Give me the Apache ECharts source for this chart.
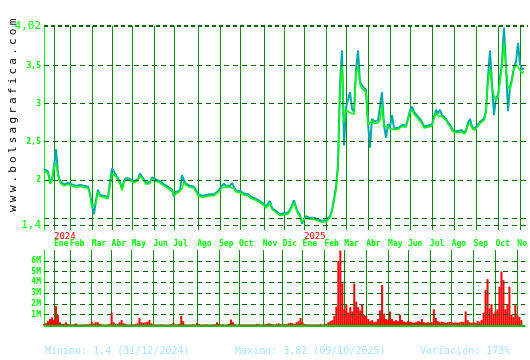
<!DOCTYPE html>
<html><head><meta charset="utf-8">
<script src="https://cdn.jsdelivr.net/npm/echarts@6/dist/echarts.min.js"></script>
<style>
html,body{margin:0;padding:0;background:#fff;}
#c{position:absolute;left:0;top:0;width:530px;height:360px;}
#wm{position:absolute;left:7px;top:212px;font:11px "DejaVu Sans Mono";line-height:11px;letter-spacing:3.2px;white-space:nowrap;color:#000;transform-origin:0 0;transform:rotate(-90deg);}
</style></head>
<body><div id="c"></div><div id="wm">www.bolsagrafica.com</div>
<script>
// ---- data ----
const monthNames = ['Ene','Feb','Mar','Abr','May','Jun','Jul','Ago','Sep','Oct','Nov','Dic','Ene','Feb','Mar','Abr','May','Jun','Jul','Ago','Sep','Oct','No'];
const monthIdx = [5,13,24,34,44,55,65,77,88,98,110,120,130,141,151,162,173,183,194,205,216,227,238];
const yearLabels = ['2024','2025'];
const yearIdx = [5,130];
const priceTicks = [1.4,1.5,2,2.5,3,3.5,4.02];
const priceTickLabels = ['1,4','','2','2,5','3','3,5','4,02'];
const volTicks = [1,2,3,4,5,6];
const volTickLabels = ['1M','2M','3M','4M','5M','6M'];
const closeVals = [2.12,2.10,2.08,1.95,1.98,2.15,2.22,2.05,1.96,1.95,
1.92,1.91,1.94,1.93,1.92,1.93,1.90,1.90,1.91,1.90,
1.90,1.91,1.89,1.80,1.64,1.62,1.70,1.84,1.78,1.77,
1.77,1.76,1.75,1.73,2.08,2.10,2.04,2.02,1.95,1.86,
1.97,2.00,2.01,1.99,1.97,1.96,1.97,1.99,2.05,2.04,
1.98,1.94,1.92,1.95,2.01,2.00,1.98,1.97,1.96,1.95,
1.92,1.91,1.89,1.88,1.85,1.80,1.82,1.83,1.84,1.88,
1.97,1.93,1.92,1.90,1.90,1.89,1.88,1.79,1.77,1.77,
1.78,1.78,1.79,1.79,1.80,1.79,1.81,1.83,1.85,1.90,
1.92,1.90,1.89,1.90,1.89,1.88,1.84,1.83,1.83,1.81,
1.80,1.80,1.79,1.77,1.75,1.74,1.73,1.72,1.70,1.68,
1.66,1.63,1.62,1.69,1.61,1.59,1.57,1.56,1.53,1.52,
1.54,1.56,1.55,1.59,1.64,1.70,1.62,1.55,1.52,1.45,
1.47,1.50,1.50,1.48,1.47,1.48,1.47,1.46,1.45,1.44,
1.46,1.45,1.45,1.50,1.58,1.72,1.86,2.15,3.20,3.50,
2.75,2.92,2.90,2.88,2.90,2.86,3.40,3.48,3.25,3.20,
3.22,3.15,2.72,2.75,2.78,2.74,2.76,2.75,2.78,2.98,
2.70,2.68,2.70,2.67,2.69,2.66,2.64,2.66,2.65,2.70,
2.72,2.69,2.71,2.88,2.92,2.86,2.83,2.80,2.78,2.74,
2.68,2.67,2.69,2.70,2.71,2.73,2.88,2.84,2.85,2.83,
2.84,2.78,2.73,2.70,2.65,2.62,2.60,2.62,2.61,2.63,
2.60,2.63,2.72,2.75,2.68,2.65,2.64,2.70,2.74,2.73,
2.78,2.88,3.30,3.45,3.22,3.10,3.05,3.08,3.30,3.50,
3.80,3.45,3.22,3.18,3.30,3.45,3.52,3.48,3.50,3.40,
3.42];
const tealVals = [2.14,2.13,2.11,1.97,2.00,2.18,2.40,2.08,1.98,1.97,
1.94,1.93,1.96,1.95,1.94,1.95,1.92,1.92,1.93,1.92,
1.92,1.93,1.91,1.82,1.66,1.55,1.73,1.87,1.80,1.79,
1.79,1.78,1.77,1.75,2.15,2.13,2.06,2.04,1.97,1.88,
1.99,2.02,2.03,2.01,1.99,1.98,1.99,2.01,2.08,2.06,
2.00,1.96,1.94,1.97,2.03,2.02,2.00,1.99,1.98,1.97,
1.94,1.93,1.91,1.90,1.87,1.78,1.84,1.85,1.86,2.06,
1.99,1.95,1.94,1.92,1.92,1.91,1.90,1.81,1.79,1.79,
1.80,1.80,1.81,1.81,1.82,1.81,1.83,1.85,1.87,1.92,
1.95,1.92,1.91,1.92,1.96,1.90,1.86,1.85,1.85,1.83,
1.82,1.82,1.81,1.79,1.77,1.76,1.75,1.74,1.72,1.70,
1.68,1.65,1.64,1.72,1.63,1.61,1.59,1.58,1.55,1.54,
1.56,1.58,1.57,1.61,1.66,1.73,1.64,1.57,1.54,1.42,
1.49,1.52,1.52,1.50,1.49,1.50,1.49,1.48,1.47,1.46,
1.48,1.47,1.47,1.52,1.60,1.75,1.90,2.20,3.25,3.70,
2.45,2.95,2.93,3.15,2.93,2.89,3.44,3.70,3.28,3.24,
3.26,3.18,2.74,2.42,2.80,2.77,2.79,2.78,2.80,3.15,
2.72,2.55,2.73,2.70,2.85,2.68,2.66,2.68,2.67,2.72,
2.74,2.71,2.73,2.91,2.96,2.89,2.86,2.83,2.80,2.76,
2.70,2.69,2.71,2.72,2.73,2.75,2.92,2.87,2.92,2.85,
2.86,2.80,2.75,2.72,2.67,2.64,2.62,2.64,2.63,2.65,
2.62,2.65,2.75,2.80,2.70,2.67,2.66,2.72,2.76,2.75,
2.80,2.90,3.35,3.70,3.25,2.85,3.08,3.11,3.33,3.55,
4.00,3.48,2.90,3.21,3.33,3.48,3.55,3.80,3.52,3.45,
3.46];
const volM = [0.15,0.2,0.4,0.6,0.75,0.5,1.8,1.0,0.3,0.15,
0.15,0.3,0.15,0.1,0.1,0.12,0.2,0.1,0.1,0.1,
0.12,0.1,0.12,0.15,0.35,0.2,0.3,0.3,0.15,0.12,
0.1,0.1,0.1,0.15,1.2,0.3,0.15,0.15,0.3,0.5,
0.2,0.15,0.1,0.1,0.12,0.1,0.15,0.2,0.7,0.3,
0.25,0.3,0.35,0.5,0.2,0.12,0.1,0.1,0.1,0.12,
0.1,0.1,0.1,0.1,0.12,0.25,0.1,0.1,0.15,0.9,
0.4,0.1,0.1,0.1,0.1,0.12,0.1,0.25,0.15,0.1,
0.1,0.1,0.12,0.1,0.1,0.1,0.12,0.3,0.15,0.1,
0.12,0.1,0.1,0.15,0.55,0.3,0.12,0.1,0.1,0.1,
0.12,0.1,0.1,0.1,0.12,0.1,0.1,0.15,0.12,0.1,
0.1,0.12,0.15,0.2,0.15,0.12,0.1,0.15,0.2,0.12,
0.1,0.15,0.12,0.2,0.25,0.2,0.15,0.3,0.4,0.7,
0.3,0.15,0.12,0.1,0.12,0.1,0.1,0.12,0.1,0.15,
0.1,0.12,0.15,0.3,0.4,0.5,0.9,1.75,6.0,6.95,
3.9,1.5,2.0,1.2,1.7,1.3,3.9,2.2,1.7,1.4,
2.0,1.0,0.9,0.6,0.4,0.5,0.3,0.35,0.6,1.4,
3.75,1.1,0.6,0.5,1.3,0.6,0.4,0.5,0.4,1.0,
0.5,0.35,0.3,0.4,0.35,0.3,0.25,0.3,0.4,0.35,
0.6,0.3,0.25,0.3,0.25,0.3,1.5,0.7,0.4,0.3,
0.35,0.3,0.25,0.3,0.35,0.3,0.25,0.3,0.25,0.3,
0.35,0.3,1.3,0.5,0.3,0.25,0.3,0.25,0.4,0.3,
0.5,1.2,3.3,4.3,1.6,2.0,1.1,1.3,1.5,3.6,
5.0,4.2,1.5,2.0,3.6,1.0,0.8,2.0,1.0,0.8,
0.5];
const minText = 'Minimo: 1,4 (31/12/2024)';
const maxText = 'Maximo: 3,82 (09/10/2025)';
const varText = 'Variación: 173%';

// ---- chart ----
const N = 243;
const cats = Array.from({length: N}, (_, i) => String(i));
const monthAt = {}; monthIdx.forEach((k, j) => { monthAt[k] = monthNames[j]; });
const yearAt = {}; yearIdx.forEach((k, j) => { yearAt[k] = yearLabels[j]; });
const FONT = '"DejaVu Sans Mono", monospace';
const gridDash = '#006400';
const mkVLine = () => ({show: true, interval: (i) => monthAt[i] !== undefined, lineStyle: {color: '#008c00', width: 1}});

const priceLines = priceTicks.map((v, j) => {
  const big = (v === 4.02 || v === 1.4);
  return {
    yAxis: v, name: priceTickLabels[j],
    lineStyle: {color: gridDash, width: v === 4.02 ? 2 : 1, type: v === 4.02 ? [4, 3] : [5, 4]},
    label: {show: priceTickLabels[j] !== '', fontSize: big ? 11 : 8, fontWeight: big ? 'normal' : 'bold'}
  };
});
const volLines = volTicks.map((v, j) => ({
  yAxis: v, name: volTickLabels[j],
  lineStyle: {color: gridDash, width: 1, type: [5, 4]}
}));
volLines.push({yAxis: 0, name: '', lineStyle: {color: '#00c800', width: 2, type: 'solid'}, label: {show: false}});

const chart = echarts.init(document.getElementById('c'), null, {renderer: 'canvas'});
chart.setOption({
  animation: false,
  backgroundColor: '#fff',
  textStyle: {fontFamily: FONT},
  grid: [
    {left: 44, top: 26, width: 484, height: 204},
    {left: 44, top: 250, width: 484, height: 75.5}
  ],
  xAxis: [
    {type: 'category', gridIndex: 0, data: cats, boundaryGap: false,
     axisLine: {show: false}, axisTick: {show: false},
     axisLabel: {interval: (i) => yearAt[i] !== undefined, formatter: (v, i) => yearAt[i] || '',
                 color: '#ff0000', fontSize: 9, align: 'left', margin: 2, fontFamily: FONT},
     splitLine: mkVLine()},
    {type: 'category', gridIndex: 1, data: cats, boundaryGap: false, position: 'top',
     axisLine: {show: false}, axisTick: {show: false},
     axisLabel: {interval: (i) => monthAt[i] !== undefined, formatter: (v, i) => monthAt[i] || '',
                 color: '#00ff00', fontSize: 8, fontWeight: 'bold', align: 'left', margin: 2, fontFamily: FONT},
     splitLine: mkVLine()}
  ],
  yAxis: [
    {type: 'value', gridIndex: 0, min: 1.34, max: 4.02,
     axisLine: {show: true, lineStyle: {color: '#00ff00', width: 1}},
     axisTick: {show: false}, axisLabel: {show: false}, splitLine: {show: false}},
    {type: 'value', gridIndex: 1, min: 0, max: 7,
     axisLine: {show: true, lineStyle: {color: '#00ff00', width: 1}},
     axisTick: {show: false}, axisLabel: {show: false}, splitLine: {show: false}}
  ],
  series: [
    {type: 'line', xAxisIndex: 0, yAxisIndex: 0, data: [], silent: true,
     markLine: {symbol: 'none', silent: true, animation: false,
       label: {position: 'start', color: '#00ff00', fontSize: 8, distance: 3, formatter: '{b}', fontFamily: FONT},
       data: priceLines}},
    {type: 'line', xAxisIndex: 1, yAxisIndex: 1, data: [], silent: true,
     markLine: {symbol: 'none', silent: true, animation: false,
       label: {position: 'start', color: '#00ff00', fontSize: 8, fontWeight: 'bold', distance: 3, formatter: '{b}', fontFamily: FONT},
       data: volLines}},
    {type: 'line', xAxisIndex: 0, yAxisIndex: 0, data: tealVals, symbol: 'none',
     lineStyle: {color: '#00aaaa', width: 2}},
    {type: 'line', xAxisIndex: 0, yAxisIndex: 0, data: closeVals, symbol: 'none',
     lineStyle: {color: '#00ff00', width: 1.5}},
    {type: 'bar', xAxisIndex: 1, yAxisIndex: 1, data: volM, barWidth: 2,
     itemStyle: {color: '#ff0000'}}
  ],
  graphic: [
    {type: 'text', left: 45, top: 346, style: {text: minText, fill: '#aae6ff', font: '10px ' + FONT}},
    {type: 'text', left: 235, top: 346, style: {text: maxText, fill: '#aae6ff', font: '10px ' + FONT}},
    {type: 'text', left: 420, top: 346, style: {text: varText, fill: '#aae6ff', font: '10px ' + FONT}}
  ]
});
</script>
</body></html>
